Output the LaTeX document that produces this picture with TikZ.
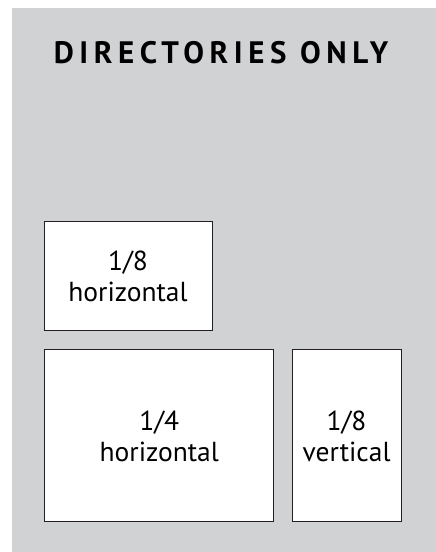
\documentclass[tikz,border=0pt]{standalone}
\usepackage{fontspec}
\setmainfont{PT Sans}
\newfontfamily\titlefont[LetterSpace=18]{PT Sans Bold}
\definecolor{panelgray}{HTML}{D1D2D4}
\definecolor{adline}{HTML}{231F20}
\begin{document}
\begin{tikzpicture}[x=1pt,y=1pt,
    adbox/.style={draw=adline,line width=1pt,fill=white,inner sep=0pt,
      align=center,font=\fontsize{27.5}{31}\selectfont},
    adtitle/.style={inner sep=0pt,anchor=base,font=\fontsize{31}{34}\selectfont\titlefont}]
    \useasboundingbox (0,0) rectangle (436,552);
    % ---- grey panel ----
    \fill[panelgray] (12,0) rectangle (436,544);
    % ---- heading ----
    \node[adtitle] (title) at (221,488) {DIRECTORIES ONLY};
    % ---- ad sizes ----
    \node[adbox,minimum width=168,minimum height=109] (eighthh) at (128,275.5) {1/8\\horizontal};
    \node[adbox,minimum width=229,minimum height=172] (quarterh) at (159.2,116) {1/4\\horizontal};
    \node[adbox,minimum width=109,minimum height=172] (eighthv) at (346.6,116) {1/8\\vertical};
\end{tikzpicture}
\end{document}
